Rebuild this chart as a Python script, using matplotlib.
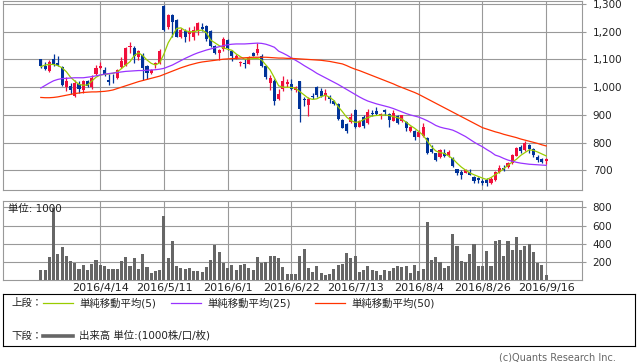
import matplotlib
matplotlib.use("Agg")
import matplotlib.pyplot as plt
from matplotlib.ticker import FuncFormatter
from matplotlib.lines import Line2D
import numpy as np

plt.rcParams['font.family'] = ['DejaVu Sans', 'Noto Sans CJK JP']

# daily candles, 2016/3/25 .. 2016/9/16 (one row per trading day)
opens = [1100, 1076, 1060, 1100, 1088, 1074, 1000, 1004, 969, 1011,
         990, 1021, 999, 1047, 1069, 1062, 1026, 1038, 1033, 1074,
         1080, 1144, 1140, 1110, 1117, 1076, 1052, 1080, 1086, 1293,
         1218, 1260, 1242, 1180, 1204, 1193, 1180, 1204, 1218, 1221,
         1204, 1149, 1125, 1137, 1170, 1130, 1107, 1086, 1086, 1084,
         1124, 1122, 1112, 1078, 1016, 1023, 958, 992, 1012, 1012,
         990, 1023, 958, 935, 970, 1000, 987, 968, 966, 950,
         939, 882, 867, 874, 918, 857, 893, 870, 906, 914,
         899, 918, 903, 879, 896, 879, 874, 841, 843, 822,
         824, 815, 776, 761, 747, 764, 754, 744, 704, 694,
         691, 694, 677, 673, 662, 665, 653, 665, 694, 710,
         713, 725, 752, 785, 773, 790, 776, 747, 740, 732]
highs = [1103, 1091, 1098, 1120, 1112, 1077, 1035, 1014, 1025, 1021,
         1026, 1026, 1044, 1079, 1092, 1074, 1047, 1047, 1065, 1110,
         1145, 1163, 1148, 1134, 1124, 1080, 1064, 1091, 1136, 1297,
         1264, 1264, 1245, 1214, 1211, 1216, 1220, 1236, 1230, 1224,
         1207, 1152, 1136, 1182, 1173, 1134, 1118, 1094, 1100, 1114,
         1128, 1158, 1118, 1080, 1045, 1028, 992, 1040, 1028, 1028,
         1004, 1023, 963, 966, 980, 1005, 997, 992, 972, 954,
         942, 884, 869, 906, 920, 881, 898, 922, 918, 927,
         906, 923, 906, 918, 901, 901, 877, 860, 846, 846,
         870, 819, 790, 764, 776, 776, 773, 749, 706, 701,
         706, 704, 680, 677, 667, 672, 677, 698, 720, 718,
         730, 758, 786, 790, 805, 795, 781, 754, 744, 744]
lows = [1068, 1062, 1056, 1078, 1076, 1005, 987, 975, 966, 978,
        978, 999, 992, 1044, 1064, 1042, 1008, 1016, 1030, 1068,
        1078, 1124, 1088, 1098, 1026, 1031, 1048, 1070, 1082, 1203,
        1210, 1182, 1180, 1176, 1164, 1165, 1172, 1190, 1202, 1168,
        1144, 1120, 1098, 1130, 1134, 1095, 1100, 1076, 1070, 1082,
        1112, 1116, 1074, 1030, 990, 936, 955, 987, 1000, 990,
        984, 875, 933, 896, 956, 965, 965, 954, 942, 936,
        881, 851, 836, 870, 853, 855, 853, 868, 896, 900,
        885, 900, 857, 877, 867, 875, 843, 839, 810, 819,
        822, 759, 764, 732, 744, 749, 747, 713, 685, 668,
        689, 682, 656, 656, 648, 643, 651, 663, 691, 698,
        708, 723, 750, 764, 770, 761, 747, 730, 725, 722]
closes = [1077, 1064, 1091, 1080, 1079, 1008, 1023, 990, 1016, 992,
          1021, 1004, 1033, 1069, 1076, 1047, 1020, 1035, 1062, 1096,
          1140, 1148, 1112, 1131, 1068, 1050, 1062, 1088, 1131, 1206,
          1260, 1236, 1182, 1206, 1180, 1198, 1206, 1233, 1211, 1173,
          1149, 1125, 1134, 1173, 1140, 1111, 1114, 1091, 1084, 1110,
          1114, 1139, 1077, 1035, 1033, 951, 977, 1023, 1019, 995,
          1000, 920, 953, 956, 966, 972, 968, 978, 958, 939,
          887, 854, 843, 891, 855, 879, 860, 910, 902, 903,
          903, 910, 882, 906, 872, 899, 853, 855, 822, 837,
          858, 764, 766, 737, 773, 752, 766, 716, 689, 685,
          701, 685, 663, 665, 653, 655, 670, 695, 708, 701,
          725, 754, 781, 771, 800, 776, 754, 737, 730, 740]

ma5 = [1074, 1080, 1082, 1082, 1078, 1070, 1056, 1036, 1022, 1010,
       1007, 1008, 1022, 1036, 1044, 1046, 1048, 1050, 1055, 1067,
       1080, 1092, 1114, 1124, 1114, 1098, 1086, 1080, 1088, 1120,
       1160, 1186, 1212, 1214, 1204, 1200, 1200, 1204, 1206, 1196,
       1170, 1160, 1150, 1142, 1137, 1133, 1120, 1110, 1101, 1102,
       1103, 1104, 1098, 1080, 1062, 1034, 1005, 1000, 1000, 999,
       996, 984, 972, 960, 956, 958, 966, 971, 964, 952,
       930, 912, 892, 880, 873, 875, 883, 890, 896, 898,
       899, 900, 898, 894, 890, 885, 874, 862, 852, 840,
       827, 806, 785, 770, 764, 761, 752, 742, 726, 712,
       701, 691, 684, 678, 672, 667, 674, 684, 694, 706,
       718, 730, 740, 754, 764, 774, 772, 766, 759, 752]
ma25 = [997, 1006, 1015, 1023, 1028, 1031, 1032, 1033, 1034, 1034,
        1034, 1036, 1038, 1041, 1044, 1047, 1049, 1051, 1053, 1055,
        1057, 1058, 1059, 1060, 1060, 1061, 1062, 1063, 1065, 1068,
        1074, 1080, 1088, 1096, 1104, 1111, 1118, 1124, 1129, 1134,
        1138, 1142, 1146, 1150, 1153, 1155, 1156, 1156, 1156, 1157,
        1158, 1159, 1158, 1155, 1150, 1144, 1130, 1123, 1115, 1106,
        1097, 1088, 1078, 1069, 1060, 1050, 1042, 1034, 1026, 1018,
        1010, 1001, 992, 983, 974, 965, 957, 950, 945, 940,
        936, 932, 928, 923, 917, 911, 905, 900, 896, 892,
        886, 879, 871, 862, 856, 852, 849, 845, 838, 830,
        822, 812, 802, 793, 785, 775, 766, 755, 750, 743,
        737, 733, 729, 726, 724, 722, 721, 720, 719, 718]
ma50 = [963, 962, 962, 963, 965, 968, 971, 974, 977, 979,
        981, 982, 983, 983, 984, 985, 987, 990, 995, 1000,
        1005, 1010, 1015, 1020, 1024, 1028, 1032, 1036, 1040, 1046,
        1052, 1058, 1064, 1070, 1075, 1080, 1084, 1088, 1091, 1093,
        1095, 1097, 1099, 1101, 1102, 1103, 1104, 1105, 1106, 1107,
        1108, 1108, 1108, 1108, 1107, 1106, 1105, 1105, 1104, 1104,
        1103, 1102, 1101, 1100, 1099, 1098, 1097, 1095, 1093, 1090,
        1087, 1084, 1078, 1071, 1065, 1060, 1054, 1048, 1042, 1036,
        1030, 1024, 1018, 1012, 1005, 999, 993, 987, 981, 974,
        966, 958, 950, 942, 934, 926, 918, 910, 902, 894,
        886, 878, 870, 862, 854, 849, 844, 839, 835, 830,
        826, 822, 818, 813, 809, 805, 801, 797, 792, 788]

volume = [114, 114, 257, 790, 290, 367, 270, 213, 191, 125,
          169, 114, 180, 224, 169, 158, 125, 125, 125, 213,
          257, 158, 246, 125, 290, 147, 81, 103, 114, 708,
          246, 433, 158, 136, 125, 136, 103, 103, 92, 147,
          224, 389, 312, 191, 136, 169, 114, 169, 180, 136,
          114, 257, 191, 202, 268, 268, 246, 147, 70, 70,
          70, 268, 345, 136, 92, 158, 77, 59, 66, 125,
          169, 180, 301, 246, 268, 92, 114, 158, 114, 103,
          59, 114, 103, 136, 158, 147, 158, 81, 169, 103,
          125, 642, 224, 257, 202, 136, 158, 510, 378, 213,
          202, 290, 400, 158, 158, 323, 158, 433, 444, 268,
          433, 334, 477, 334, 378, 400, 312, 191, 169, 59]

grid_idx = [14, 29, 44, 59, 74, 89, 104, 119]
date_labels = ['2016/4/14', '2016/5/11', '2016/6/1', '2016/6/22',
               '2016/7/13', '2016/8/4', '2016/8/26', '2016/9/16']
price_ticks = [700, 800, 900, 1000, 1100, 1200, 1300]
vol_ticks = [200, 400, 600, 800]

UP = '#f0103c'
DOWN = '#003399'
GRID = '#999999'

W, H = 638, 362
fig = plt.figure(figsize=(W / 100, H / 100), dpi=100)


def px_axes(x0, y0, x1, y1):
    return fig.add_axes([x0 / W, 1 - y1 / H, (x1 - x0) / W, (y1 - y0) / H])


x = np.arange(len(closes))
o = np.array(opens)
c = np.array(closes)
cols = [UP if cc >= oo else DOWN for oo, cc in zip(o, c)]

# upper panel: candles + moving averages
ax = px_axes(3.3, 0.7, 582.3, 190.3)
ax.vlines(x, lows, highs, colors=cols, lw=0.9, zorder=3)
body_low = np.minimum(o, c)
body_h = np.maximum(np.abs(c - o), 1.5)
ax.bar(x, body_h, bottom=body_low, width=0.72, color=cols, lw=0, zorder=3)
ax.plot(x, ma5, color='#99cc00', lw=0.9, zorder=4)
ax.plot(x, ma25, color='#9933ff', lw=0.9, zorder=4)
ax.plot(x, ma50, color='#ff3300', lw=0.9, zorder=4)
ax.set_xlim(-8.83, 127.5)
ax.set_ylim(628, 1312)
ax.set_xticks(grid_idx)
ax.set_xticklabels([])
ax.set_yticks(price_ticks)
ax.yaxis.set_major_formatter(FuncFormatter(lambda v, p: f'{int(v):,}'))
ax.yaxis.tick_right()
ax.tick_params(axis='x', length=0)
ax.tick_params(axis='y', length=3, color=GRID, labelsize=7.5,
               labelcolor='#222222', pad=4.5)
ax.grid(True, color=GRID, lw=0.8)
ax.set_axisbelow(True)
for s in ax.spines.values():
    s.set_color(GRID)
    s.set_linewidth(0.8)

# lower panel: volume
axv = px_axes(3.3, 201, 582.3, 280.3)
axv.bar(x, volume, width=0.72, color='#666666', lw=0, zorder=3)
axv.set_xlim(-8.83, 127.5)
axv.set_ylim(0, 869)
axv.set_xticks(grid_idx)
axv.set_xticklabels(date_labels)
axv.set_yticks(vol_ticks)
axv.yaxis.tick_right()
axv.tick_params(axis='x', length=0, labelsize=8, labelcolor='#222222', pad=2)
axv.tick_params(axis='y', length=3, color=GRID, labelsize=7.5,
                labelcolor='#222222', pad=4.5)
axv.grid(True, color=GRID, lw=0.8)
axv.set_axisbelow(True)
for s in axv.spines.values():
    s.set_color(GRID)
    s.set_linewidth(0.8)
axv.text(0.008, 0.9, '単位: 1000', transform=axv.transAxes, fontsize=7.5,
         color='#222222', va='center', ha='left', zorder=5)

# legend box
axl = px_axes(3.3, 294, 635, 346)
axl.set_xlim(0, 631.7)
axl.set_ylim(52, 0)
axl.set_xticks([])
axl.set_yticks([])
for s in axl.spines.values():
    s.set_color('black')
    s.set_linewidth(0.8)
row1, row2 = 9, 41.7
axl.text(8, row1, '上段：', fontsize=7.5, va='center', color='#222222')
axl.text(8, row2, '下段：', fontsize=7.5, va='center', color='#222222')
for x0, col, lab in [(40, '#99cc00', '単純移動平均(5)'),
                     (168, '#9933ff', '単純移動平均(25)'),
                     (312, '#ff3300', '単純移動平均(50)')]:
    axl.add_line(Line2D([x0, x0 + 30], [row1, row1], color=col, lw=0.9))
    axl.text(x0 + 36, row1, lab, fontsize=7.5, va='center', color='#222222')
axl.add_line(Line2D([40, 70], [row2, row2], color='#666666', lw=2.6))
axl.text(76, row2, '出来高 単位:(1000株/口/枚)', fontsize=7.5, va='center',
         color='#222222')

fig.text(616 / W, 1 - 357 / H, '(c)Quants Research Inc.', fontsize=7,
         color='#666666', ha='right', va='center')

fig.savefig('out.png', dpi=100)
